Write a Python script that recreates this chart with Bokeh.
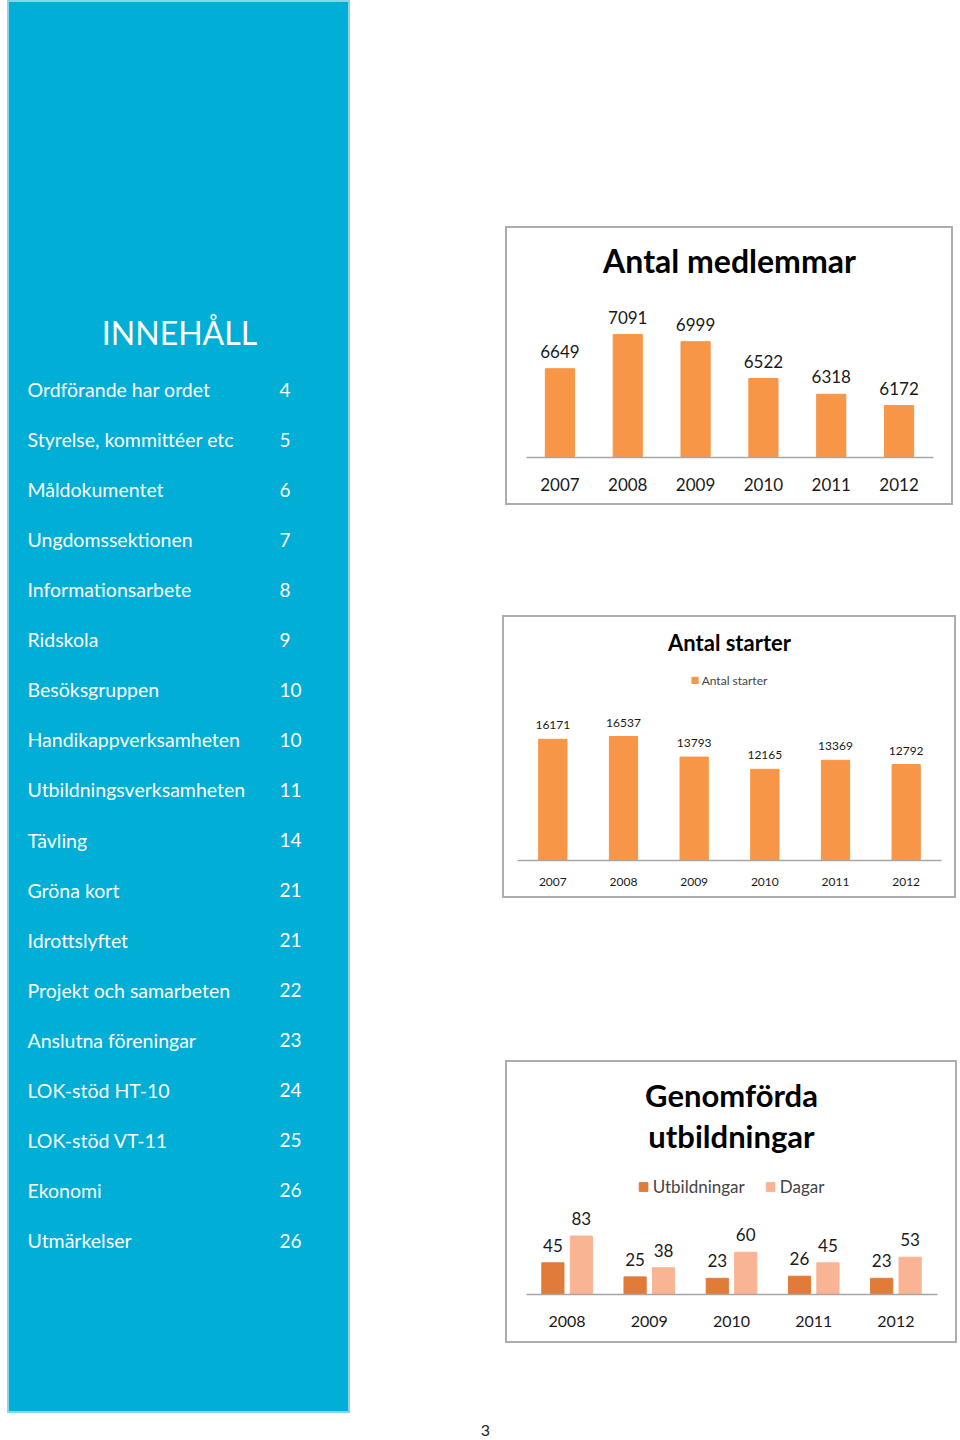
from bokeh.plotting import figure
from bokeh.layouts import row, column, Spacer
from bokeh.models import Range1d, FactorRange, ColumnDataSource, Legend, LegendItem, Label
from bokeh.transform import dodge
from bokeh.core.properties import value
from bokeh.embed import file_html
from bokeh.resources import INLINE

# ---------------- data ----------------
toc_heading = "INNEHÅLL"
toc_titles = ["Ordförande  har ordet", "Styrelse, kommittéer etc", "Måldokumentet",
              "Ungdomssektionen", "Informationsarbete", "Ridskola", "Besöksgruppen",
              "Handikappverksamheten", "Utbildningsverksamheten", "Tävling", "Gröna kort",
              "Idrottslyftet", "Projekt och samarbeten", "Anslutna föreningar",
              "LOK-stöd HT-10", "LOK-stöd VT-11", "Ekonomi", "Utmärkelser"]
toc_pages = ["4", "5", "6", "7", "8", "9", "10", "10", "11", "14", "21", "21",
             "22", "23", "24", "25", "26", "26"]

member_title = "Antal medlemmar"
member_years = ["2007", "2008", "2009", "2010", "2011", "2012"]
member_counts = [6649, 7091, 6999, 6522, 6318, 6172]

start_title = "Antal starter"
start_years = ["2007", "2008", "2009", "2010", "2011", "2012"]
start_counts = [16171, 16537, 13793, 12165, 13369, 12792]

edu_title = ["Genomförda", "utbildningar"]
edu_series = ["Utbildningar", "Dagar"]
edu_years = ["2008", "2009", "2010", "2011", "2012"]
edu_courses = [45, 25, 23, 26, 23]
edu_days = [83, 38, 60, 45, 53]

page_number = "3"

# ---------------- style ----------------
BLUE = "#00AED6"
ORANGE = "#F79646"
DARK = "#E07B39"
LIGHT = "#F9B493"
FONT = "Lato"
BORDER = "#ADADAD"


def chart(width, height, factors, pad_px, base, px_below, px_above, per_px):
    """Figure whose frame is the whole chart box; axis sits at the baseline."""
    cat_px = (width - 2 * pad_px) / len(factors)
    rp = 2 * (pad_px / cat_px) / len(factors)
    p = figure(width=width, height=height,
               x_range=FactorRange(*factors, range_padding=rp),
               y_range=Range1d(base - px_below * per_px, base + px_above * per_px),
               toolbar_location=None, output_backend="svg", y_axis_location=None,
               min_border=0, outline_line_color=BORDER, outline_line_width=3)
    p.xgrid.visible = False
    p.ygrid.visible = False
    ax = p.xaxis[0]
    ax.fixed_location = base
    ax.bounds = (0, len(factors))
    ax.axis_line_color = "#A6A6A6"
    ax.axis_line_width = 1.3
    ax.major_tick_line_color = None
    ax.minor_tick_line_color = None
    ax.major_tick_out = 0
    ax.major_tick_in = 0
    ax.major_label_text_font = FONT
    ax.major_label_text_color = "#1a1a1a"
    return p


def title_label(p, text, y, size):
    p.add_layout(Label(x=p.width / 2, y=y, x_units="screen", y_units="screen", text=text,
                       text_align="center", text_baseline="middle", text_font=FONT,
                       text_font_style="bold", text_font_size=size, text_color="#000000"))


# ---------------- left panel (table of contents) ----------------
left = figure(width=343, height=1413, x_range=Range1d(0, 343), y_range=Range1d(20.455, -7.771),
              x_axis_location=None, y_axis_location=None, toolbar_location=None,
              output_backend="svg", min_border=0, background_fill_color=BLUE,
              border_fill_color=BLUE, outline_line_color="#8AD4EA", outline_line_width=3)
left.grid.visible = False
toc_src = ColumnDataSource(dict(y=list(range(len(toc_titles))), title=toc_titles, page=toc_pages))
left.text(x=20, y="y", text="title", source=toc_src, text_font=value(FONT),
          text_font_size="19.5px", text_color="white", text_baseline="middle")
left.text(x=272, y="y", text="page", source=toc_src, text_font=value(FONT),
          text_font_size="19px", text_color="white", text_baseline="middle")
left.text(x=[172], y=[-1.14], text=[toc_heading], text_font=value(FONT),
          text_font_size="32px", text_color="white", text_baseline="middle", text_align="center")

# ---------------- chart 1: Antal medlemmar ----------------
p1 = chart(448, 279, member_years, 20.5, 5500, 48, 231, 12.94)
src1 = ColumnDataSource(dict(year=member_years, count=member_counts,
                             label=[str(v) for v in member_counts]))
p1.vbar(x="year", top="count", bottom=5500, width=0.43, source=src1, color=ORANGE)
p1.text(x="year", y="count", text="label", source=src1, text_align="center",
        text_baseline="bottom", y_offset=-11, text_font=value(FONT), text_font_size="17px",
        text_color="#1a1a1a")
p1.xaxis.major_label_text_font_size = "17px"
p1.xaxis.major_label_standoff = 20
title_label(p1, member_title, 245, "32px")

# ---------------- chart 2: Antal starter ----------------
p2 = chart(454, 283, start_years, 15, 0, 38, 245, 133.4)
src2 = ColumnDataSource(dict(year=start_years, count=start_counts,
                             label=[str(v) for v in start_counts]))
r2 = p2.vbar(x="year", top="count", width=0.4, source=src2, color=ORANGE)
p2.text(x="year", y="count", text="label", source=src2, text_align="center",
        text_baseline="bottom", y_offset=-10, text_font=value(FONT), text_font_size="12px",
        text_color="#1a1a1a")
p2.xaxis.major_label_text_font_size = "12px"
p2.xaxis.major_label_standoff = 17
title_label(p2, start_title, 256, "22px")
leg2 = Legend(items=[LegendItem(label=start_title, renderers=[r2])], orientation="horizontal",
              location="top_center", margin=57, padding=2, glyph_width=8, glyph_height=8,
              label_height=16, label_standoff=3, label_text_font=FONT,
              label_text_font_size="12px", border_line_color=None, background_fill_alpha=0)
p2.add_layout(leg2)

# ---------------- chart 3: Genomförda utbildningar ----------------
p3 = chart(452, 283, edu_years, 20.5, 0, 49, 234, 1.42)
src3 = ColumnDataSource(dict(year=edu_years, courses=edu_courses, days=edu_days,
                             lc=[str(v) for v in edu_courses], ld=[str(v) for v in edu_days]))
ra = p3.vbar(x=dodge("year", -0.173, range=p3.x_range), top="courses", width=0.27,
             source=src3, color=DARK)
rb = p3.vbar(x=dodge("year", 0.173, range=p3.x_range), top="days", width=0.27,
             source=src3, color=LIGHT)
p3.text(x=dodge("year", -0.173, range=p3.x_range), y="courses", text="lc", source=src3,
        text_align="center", text_baseline="bottom", y_offset=-11, text_font=value(FONT),
        text_font_size="17px", text_color="#1a1a1a")
p3.text(x=dodge("year", 0.173, range=p3.x_range), y="days", text="ld", source=src3,
        text_align="center", text_baseline="bottom", y_offset=-11, text_font=value(FONT),
        text_font_size="17px", text_color="#1a1a1a")
p3.xaxis.major_label_text_font_size = "16px"
p3.xaxis.major_label_standoff = 21
title_label(p3, edu_title[0], 249, "31px")
title_label(p3, edu_title[1], 208, "31px")
leg3 = Legend(items=[LegendItem(label=edu_series[0], renderers=[ra]),
                     LegendItem(label=edu_series[1], renderers=[rb])], orientation="horizontal",
              location="top_center", margin=116, padding=2, spacing=20, glyph_width=11,
              glyph_height=11, label_height=20, label_standoff=4, label_text_font=FONT,
              label_text_font_size="17px", border_line_color=None, background_fill_alpha=0)
p3.add_layout(leg3)

# ---------------- page number ----------------
pn = figure(width=30, height=20, x_range=Range1d(0, 1), y_range=Range1d(0, 1),
            x_axis_location=None, y_axis_location=None, toolbar_location=None,
            output_backend="svg", min_border=0, outline_line_color=None)
pn.grid.visible = False
pn.text(x=[0.5], y=[0.5], text=[page_number], text_align="center", text_baseline="middle",
        text_font=value(FONT), text_font_size="16px", text_color="#222222")

right = column(Spacer(width=490, height=226),
               row(Spacer(width=35, height=279), p1),
               Spacer(width=490, height=110),
               row(Spacer(width=32, height=283), p2),
               Spacer(width=490, height=162),
               row(Spacer(width=35, height=283), p3),
               Spacer(width=490, height=77),
               row(Spacer(width=0, height=20), pn))

layout = row(Spacer(width=7, height=1413), left, Spacer(width=120, height=1413), right)

open("out.html", "w").write(file_html(layout, INLINE))
